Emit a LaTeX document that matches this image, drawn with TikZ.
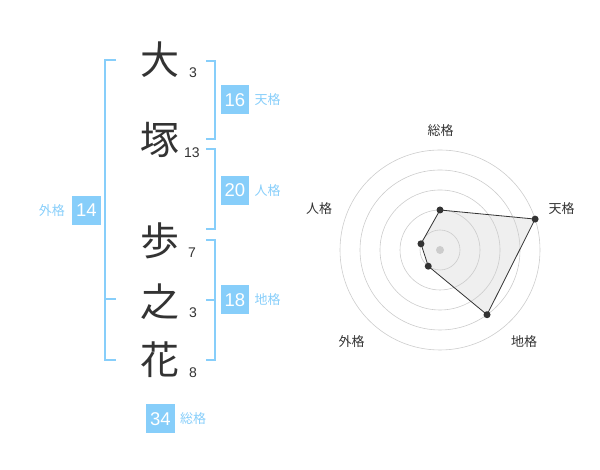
\documentclass[tikz,border=0pt]{standalone}
\usepackage{fontspec}
\setmainfont{Liberation Sans}
\newfontfamily\jpfont{Noto Sans CJK JP}
\usepackage{tikz}
\usetikzlibrary{positioning}

\definecolor{kakublue}{HTML}{87CEFA}
\definecolor{inkgray}{HTML}{333333}
\definecolor{ringgray}{HTML}{CCCCCC}
\definecolor{polyfill}{HTML}{EFEFEF}

\begin{document}
\begin{tikzpicture}[x=1pt,y=1pt]
        % Setup the styles
        \tikzset{kanji style/.style={font=\jpfont\fontsize{39}{39}\selectfont,
                                     text=inkgray, inner sep=0pt}}
        \tikzset{stroke style/.style={font=\fontsize{14}{14}\selectfont,
                                      text=inkgray, inner sep=0pt}}
        \tikzset{box style/.style={fill=kakublue, text=white,
                                   minimum width=28.5pt, minimum height=29pt,
                                   inner sep=0pt, font=\fontsize{18.5}{18.5}\selectfont}}
        \tikzset{kaku style/.style={font=\jpfont\fontsize{13}{13}\selectfont,
                                    text=kakublue, inner sep=0pt}}
        \tikzset{bracket style/.style={draw=kakublue, line width=2pt}}
        \tikzset{ring style/.style={draw=ringgray, line width=0.6pt}}
        \tikzset{dot style/.style={circle, fill=inkgray, inner sep=0pt,
                                   minimum size=7pt}}
        \tikzset{axis style/.style={font=\jpfont\fontsize{13}{13}\selectfont,
                                    text=inkgray, inner sep=0pt}}

        \useasboundingbox (0,0) rectangle (600,470);

        % Draw the name
        \node[kanji style] at (160,410) (kanji1) {大};
        \node[kanji style] at (160,330) (kanji2) {塚};
        \node[kanji style] at (160,229) (kanji3) {歩};
        \node[kanji style] at (160,168) (kanji4) {之};
        \node[kanji style] at (160,110) (kanji5) {花};

        % Draw the stroke counts
        \node[stroke style] at (193,397) (stroke1) {3};
        \node[stroke style] at (192,317) (stroke2) {13};
        \node[stroke style] at (192,217) (stroke3) {7};
        \node[stroke style] at (193,157) (stroke4) {3};
        \node[stroke style] at (193,97) (stroke5) {8};

        % Draw the brackets
        \draw[bracket style] (116,410) -- (105,410) -- (105,110) -- (116,110);
        \draw[bracket style] (105,170.5) -- (116,170.5);
        \draw[bracket style] (206,409.3) -- (215,409.3) -- (215,331) -- (206,331);
        \draw[bracket style] (206,320.7) -- (215,320.7) -- (215,241) -- (206,241);
        \draw[bracket style] (206,230) -- (215,230) -- (215,110) -- (206,110);
        \draw[bracket style] (215,170) -- (206,170);

        % Draw the boxes
        \node[box style] at (235,370) (ten) {16};
        \node[box style] at (235,279.5) (jin) {20};
        \node[box style] at (235,170) (chi) {18};
        \node[box style] at (86.5,259.5) (gai) {14};
        \node[box style] at (160.5,51) (so) {34};
        \node[kaku style, right=5pt of ten] (tenlabel) {天格};
        \node[kaku style, right=5pt of jin] (jinlabel) {人格};
        \node[kaku style, right=5pt of chi] (chilabel) {地格};
        \node[kaku style, left=7pt of gai] (gailabel) {外格};
        \node[kaku style, right=5pt of so] (solabel) {総格};

        % Draw the radar chart
        \begin{scope}[shift={(440,220)}]
                \coordinate (soP) at (90:40);
                \coordinate (tenP) at (18:100);
                \coordinate (chiP) at (-54:80);
                \coordinate (gaiP) at (-126:20);
                \coordinate (jinP) at (162:20);
                \fill[polyfill] (soP) -- (tenP) -- (chiP) -- (gaiP) -- (jinP) -- cycle;
                \foreach \r in {20,40,...,100}
                        \draw[ring style] (0,0) circle (\r);
                \node[circle, fill=ringgray, inner sep=0pt, minimum size=8pt] at (0,0) (hub) {};
                \draw[draw=inkgray, line width=0.8pt]
                      (soP) -- (tenP) -- (chiP) -- (gaiP) -- (jinP) -- cycle;
                \foreach \p in {so,ten,chi,gai,jin}
                        \node[dot style] at (\p P) (\p dot) {};
                \node[axis style] at (0.7,119.3) (soaxis) {総格};
                \node[axis style] at (121.7,41) (tenaxis) {天格};
                \node[axis style] at (-121,41) (jinaxis) {人格};
                \node[axis style] at (-88.3,-91.7) (gaiaxis) {外格};
                \node[axis style] at (84,-91.7) (chiaxis) {地格};
        \end{scope}
\end{tikzpicture}
\end{document}
